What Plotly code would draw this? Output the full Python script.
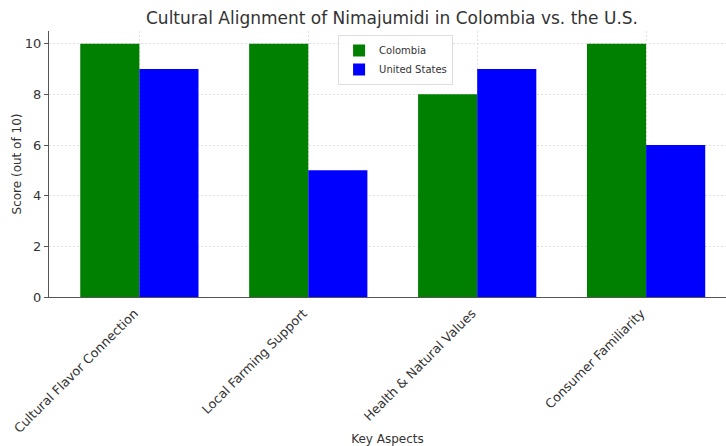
import plotly.graph_objects as go

categories = ["Cultural Flavor Connection", "Local Farming Support", "Health & Natural Values", "Consumer Familiarity"]
colombia = [10, 10, 8, 10]
united_states = [9, 5, 9, 6]

font = "DejaVu Sans"
txt = "#333333"

fig = go.Figure()
fig.add_trace(go.Bar(x=categories, y=colombia, name="Colombia", marker=dict(color="#008000", line=dict(width=0))))
fig.add_trace(go.Bar(x=categories, y=united_states, name="United States", marker=dict(color="#0000ff", line=dict(width=0))))

fig.update_layout(
    width=726, height=446,
    margin=dict(l=49, r=0, t=31, b=149),
    paper_bgcolor="white", plot_bgcolor="white",
    barmode="group", bargap=0.3, bargroupgap=0,
    font=dict(family=font, color=txt, size=12),
    title=dict(text="Cultural Alignment of Nimajumidi in Colombia vs. the U.S.",
               x=392/726, xanchor="center", y=1-18/446, yanchor="middle",
               font=dict(size=17, color=txt)),
    legend=dict(x=0.427, y=0.985, xanchor="left", yanchor="top",
                bgcolor="rgba(255,255,255,0.9)", bordercolor="#dddddd", borderwidth=1,
                font=dict(size=10, color=txt), itemwidth=30, tracegroupgap=0),
    showlegend=True,
)
fig.update_xaxes(
    range=[-0.535, 3.473], automargin=False,
    showline=True, linecolor="#555555", linewidth=1,
    ticks="outside", ticklen=3, tickcolor="rgba(0,0,0,0)",
    ticklabelshift=-5,
    tickangle=-45, tickfont=dict(size=12.7, color=txt),
    showgrid=True, gridcolor="#e0e0e0", gridwidth=0.8, griddash="2px,2px",
    title=dict(text="Key Aspects", font=dict(size=12, color=txt), standoff=6),
)
fig.update_yaxes(
    range=[0, 10.5], dtick=2, tick0=0, automargin=False,
    showline=True, linecolor="#555555", linewidth=1,
    ticks="outside", ticklen=4, tickcolor="#555555",
    tickfont=dict(size=13, color=txt),
    showgrid=True, gridcolor="#e0e0e0", gridwidth=0.8, griddash="2px,2px",
    zeroline=False,
    title=dict(text="Score (out of 10)", font=dict(size=12, color=txt), standoff=0),
)

fig.write_html("out.html")
